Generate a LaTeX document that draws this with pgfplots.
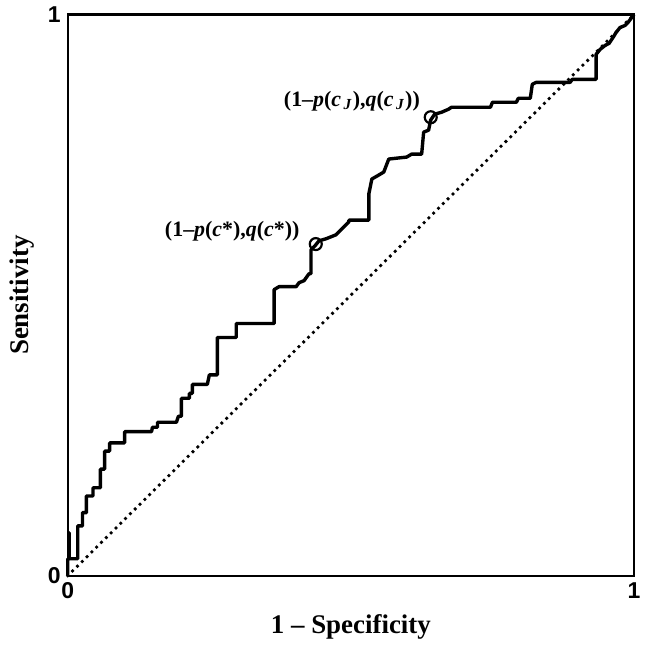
\documentclass[border=0pt]{standalone}
\usepackage{fontspec}
\setmainfont{Liberation Serif}
\newfontfamily\ticksans{Liberation Sans}
\usepackage{pgfplots}
\pgfplotsset{compat=1.18}

\pgfplotstableread{
x y
0 0
0 0.0302
0.0026 0.0302
0.0026 0.0764
0.0026 0.0302
0.0176 0.0302
0.0176 0.0888
0.0259 0.0888
0.0259 0.1124
0.0329 0.1124
0.0329 0.1421
0.0445 0.1421
0.0445 0.1568
0.0576 0.1568
0.0576 0.1901
0.0651 0.1901
0.0651 0.2220
0.0739 0.2220
0.0739 0.2368
0.1004 0.2368
0.1004 0.2567
0.1479 0.2567
0.1496 0.2647
0.1585 0.2647
0.1585 0.2735
0.1919 0.2735
0.1954 0.2842
0.2007 0.2842
0.2007 0.3162
0.2148 0.3162
0.2148 0.3250
0.2201 0.3250
0.2201 0.3410
0.2465 0.3410
0.2500 0.3579
0.2641 0.3579
0.2641 0.4245
0.2975 0.4245
0.2975 0.4494
0.3644 0.4494
0.3644 0.5098
0.3732 0.5151
0.4032 0.5151
0.4085 0.5222
0.4173 0.5258
0.4261 0.5382
0.4296 0.5382
0.4296 0.5808
0.4366 0.5879
0.4437 0.5968
0.4560 0.6004
0.4736 0.6075
0.4824 0.6163
0.4965 0.6306
0.4965 0.6336
0.5317 0.6336
0.5317 0.6803
0.5370 0.7069
0.5493 0.7140
0.5581 0.7194
0.5669 0.7425
0.5986 0.7460
0.6074 0.7513
0.6250 0.7513
0.6285 0.7904
0.6373 0.7940
0.6408 0.8117
0.6479 0.8224
0.6602 0.8259
0.6725 0.8313
0.6778 0.8348
0.7465 0.8348
0.7500 0.8437
0.7923 0.8437
0.7958 0.8508
0.8169 0.8508
0.8204 0.8757
0.8275 0.8792
0.8873 0.8792
0.8908 0.8845
0.9331 0.8845
0.9331 0.9290
0.9401 0.9378
0.9489 0.9449
0.9560 0.9485
0.9630 0.9591
0.9683 0.9680
0.9754 0.9769
0.9842 0.9805
0.9894 0.9858
0.9947 0.9929
1 1
}\roccurve

\begin{document}
\begin{tikzpicture}
\begin{axis}[
  scale only axis,
  width=284pt, height=281.5pt,
  xmin=0, xmax=1, ymin=0, ymax=1,
  xtick={0,1}, ytick={0,1},
  tick style={draw=none},
  axis line style={line width=1.1pt},
  /pgf/number format/assume math mode=true,
  tick label style={font=\ticksans\bfseries\fontsize{11.5}{13}\selectfont},
  xlabel={1 -- Specificity},
  ylabel={Sensitivity},
  label style={font=\bfseries\fontsize{13.5}{16}\selectfont},
  xlabel style={at={(axis description cs:0.5,-0.092)}, anchor=center},
  ylabel style={at={(axis description cs:-0.081,0.5)}, anchor=center, rotate=0},
  clip=false,
]
\addplot[black, line width=1.9pt, line cap=round, dash pattern=on 0pt off 3.4pt]
  coordinates {(0,0) (1,1)};
\addplot[black, line width=1.7pt, line join=round] table {\roccurve};
\addplot[only marks, mark=o, mark size=3pt, black, mark options={line width=1.1pt}]
  coordinates {(0.438,0.591) (0.641,0.817)};
\node[anchor=base, font=\bfseries\fontsize{11}{13}\selectfont] at (axis cs:0.2905,0.6039)
  {(1–\textit{p}(\textit{c}*),\textit{q}(\textit{c}*))};
\node[anchor=base, font=\bfseries\fontsize{11}{13}\selectfont] at (axis cs:0.5018,0.8366)
  {(1–\textit{p}(\textit{c}\textsubscript{\,\textit{J}}),\textit{q}(\textit{c}\textsubscript{\,\textit{J}}))};
\end{axis}
\path (current axis.south west) ++(-34pt,-34pt) rectangle ([shift={(5.5pt,6pt)}]current axis.north east);
\end{tikzpicture}
\end{document}
